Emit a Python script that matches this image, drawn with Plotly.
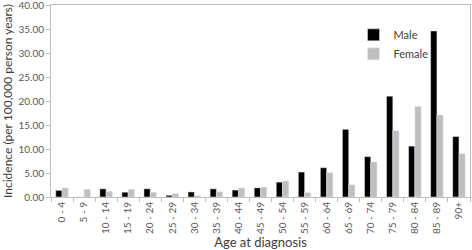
import plotly.graph_objects as go

age_groups = ["0 - 4", "5 - 9", "10 - 14", "15 - 19", "20 - 24", "25 - 29", "30 - 34",
              "35 - 39", "40 - 44", "45 - 49", "50 - 54", "55 - 59", "60 - 64", "65 - 69",
              "70 - 74", "75 - 79", "80 - 84", "85 - 89", "90+"]
male = [1.38, 0.0, 1.7, 1.0, 1.7, 0.35, 1.05, 1.7, 1.45, 1.9, 3.1, 5.2, 6.1, 14.1,
        8.4, 21.0, 10.6, 34.6, 12.6]
female = [1.9, 1.6, 1.2, 1.6, 1.0, 0.7, 0.3, 1.1, 1.9, 2.05, 3.35, 0.95, 5.1, 2.55,
          7.3, 13.8, 18.9, 17.1, 9.0]
y_ticks = [0, 5, 10, 15, 20, 25, 30, 35, 40]

font_family = "Lato, 'Open Sans', sans-serif"
text_color = "#595959"
axis_color = "#BFBFBF"

fig = go.Figure()
fig.add_trace(go.Bar(x=age_groups, y=male, name="Male", marker_color="#000000"))
fig.add_trace(go.Bar(x=age_groups, y=female, name="Female", marker_color="#BFBFBF"))

fig.update_layout(
    width=472, height=250,
    margin=dict(l=51, r=2, t=5, b=53, autoexpand=False),
    paper_bgcolor="white", plot_bgcolor="white",
    barmode="group", bargap=0.43, bargroupgap=0,
    font=dict(family=font_family, color=text_color, size=10),
    legend=dict(x=0.722, y=0.92, xanchor="left", yanchor="top",
                bgcolor="rgba(0,0,0,0)", font=dict(size=11, color="#404040"),
                itemwidth=30, tracegroupgap=4),
    showlegend=True,
)
fig.update_xaxes(
    type="category", showline=True, linecolor=axis_color, linewidth=1, mirror=True,
    ticks="outside", tickson="boundaries", ticklen=4, tickcolor=axis_color,
    tickangle=-90, tickfont=dict(size=10, color=text_color), automargin=False,
    title=dict(text="Age at diagnosis", font=dict(size=13, color="#404040"), standoff=4),
    showgrid=False,
)
fig.update_yaxes(
    range=[0, 40], tickvals=y_ticks, tickformat=".2f",
    showline=True, linecolor=axis_color, linewidth=1, mirror=True,
    ticks="outside", ticklen=4, tickcolor=axis_color, showgrid=False, zeroline=False,
    tickfont=dict(size=10, color=text_color), automargin=False, ticklabeloverflow="allow",
    title=dict(text="Incidence (per 100,000 person years)", font=dict(size=12, color="#404040"), standoff=4),
)

fig.write_html("out.html", config={"displayModeBar": False},
               post_script="document.body.style.margin='0';document.body.style.overflow='hidden';")
